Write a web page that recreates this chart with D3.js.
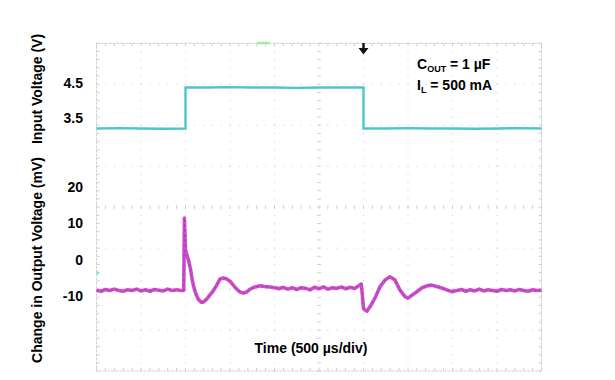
<!DOCTYPE html>
<html>
<head>
<meta charset="utf-8">
<script src="https://cdn.jsdelivr.net/npm/d3@7/dist/d3.min.js"></script>
<style>
  html, body { margin: 0; padding: 0; background: #fff; }
  svg { display: block; }
  text { font-family: "Liberation Sans", Arial, Helvetica, sans-serif; font-weight: bold; fill: #000; }
</style>
</head>
<body>
<svg id="chart" width="615" height="380"></svg>
<script>
// ---------------- data ----------------
const timeDomain = [0, 5000];              // µs, 10 divisions of 500 µs
const inTicks = [3.5, 4.5];                // V
const outTicks = [20, 10, 0, -10];         // mV

// input voltage step (V)
const inTime = [0, 250, 500, 750, 1000, 1000, 1250, 1500, 1750, 2000, 2250, 2500, 2750, 3000, 3000, 3250, 3500, 3750, 4000, 4250, 4500, 4750, 5000];
const inVolt = [3.21, 3.22, 3.21, 3.20, 3.21, 4.38, 4.38, 4.39, 4.38, 4.38, 4.37, 4.38, 4.38, 4.38, 3.21, 3.21, 3.22, 3.21, 3.21, 3.20, 3.21, 3.22, 3.21];

// change in output voltage (mV)
const outTime = [
  0, 50, 100, 150, 200, 250, 300, 350, 400, 450, 500, 550, 600, 650, 700, 750, 800, 850, 900, 950, 980,
  988, 1000, 1017, 1039, 1058, 1076, 1096, 1118, 1144, 1174, 1200, 1238, 1275, 1312, 1351, 1388, 1425, 1463,
  1500, 1537, 1575, 1612, 1649, 1688, 1725, 1781, 1837, 1894, 1950, 2025,
  2050, 2100, 2150, 2200, 2250, 2300, 2350, 2400, 2450, 2500, 2550, 2600, 2650, 2700, 2750, 2800, 2850, 2900, 2950, 2975,
  2985, 3000, 3017, 3039, 3073, 3129, 3186, 3242, 3298, 3354, 3410, 3466, 3500, 3579, 3654, 3710, 3766, 3822, 3879, 3935, 3991,
  4050, 4100, 4150, 4200, 4250, 4300, 4350, 4400, 4450, 4500, 4550, 4600, 4650, 4700, 4750, 4800, 4850, 4900, 4950, 5000
];
const outMV = [
  -8.5, -8.8, -8.3, -8.6, -8.2, -8.6, -8.8, -8.4, -8.6, -8.2, -8.7, -8.4, -8.8, -8.3, -8.5, -8.7, -8.2, -8.6, -8.4, -8.6, -8.6,
  11.5, 2.6, 1.2, -0.7, -2.9, -5.7, -7.9, -9.6, -11.0, -11.8, -11.8, -11.0, -9.8, -8.7, -7.1, -5.4, -5.1, -5.4,
  -6.0, -7.1, -8.2, -9.0, -9.3, -9.0, -8.2, -7.6, -7.3, -7.5, -7.6, -7.9,
  -8.1, -7.7, -8.2, -7.8, -8.3, -7.8, -8.0, -8.4, -7.7, -8.1, -7.6, -8.2, -7.8, -8.0, -7.6, -8.1, -7.7, -8.0, -7.2, -6.8,
  -9.3, -13.5, -14.0, -14.3, -13.1, -10.7, -7.5, -5.7, -4.8, -5.7, -8.5, -10.3, -10.7, -9.3, -7.9, -7.3, -7.1, -7.5, -7.9, -8.4, -8.9,
  -8.6, -8.3, -8.8, -8.4, -8.7, -8.2, -8.7, -8.4, -8.6, -8.8, -8.3, -8.6, -8.4, -8.7, -8.3, -8.6, -8.8, -8.4, -8.6, -8.5
];

// ---------------- layout ----------------
const svg = d3.select("#chart");
const X0 = 96.5, X1 = 541.5, Y0 = 43.3, Y1 = 371;
const x = d3.scaleLinear().domain(timeDomain).range([X0, X1]);
const div = d3.scaleLinear().domain([0, 8]).range([Y0, Y1]);       // vertical graticule divisions
const yIn = d3.scaleLinear().domain([3.5, 4.5]).range([118.3, 83.3]);
const yOut = d3.scaleLinear().domain([-10, 20]).range([295.6, 187.4]);

// ---------------- graticule ----------------
const g = svg.append("g");
const gridCol = "#d0d0d0";
const xDivs = d3.range(0, 5001, 500);
const yDivs = d3.range(0, 9);
const xSub = d3.range(0, 5001, 100);
const ySub = d3.range(0, 8.001, 0.2);

// interior dotted lines
xDivs.filter(t => t > 0 && t < 5000 && t !== 2500).forEach(t => {
  g.append("g").selectAll("rect").data(ySub).join("rect")
    .attr("x", x(t) - 0.5).attr("y", d => div(d) - 0.5).attr("width", 1).attr("height", 1.2).attr("fill", gridCol);
});
yDivs.filter(d => d > 0 && d < 8 && d !== 4).forEach(dv => {
  g.append("g").selectAll("rect").data(xSub).join("rect")
    .attr("x", d => x(d) - 0.5).attr("y", div(dv) - 0.5).attr("width", 1.2).attr("height", 1).attr("fill", gridCol);
});
// center cross lines with ticks
g.append("g").selectAll("line").data(ySub).join("line")
  .attr("x1", x(2500) - 2).attr("x2", x(2500) + 2).attr("y1", d => div(d)).attr("y2", d => div(d))
  .attr("stroke", gridCol).attr("stroke-width", 1);
g.append("g").selectAll("line").data(xSub).join("line")
  .attr("x1", d => x(d)).attr("x2", d => x(d)).attr("y1", div(4) - 2).attr("y2", div(4) + 2)
  .attr("stroke", gridCol).attr("stroke-width", 1);
// border
g.append("rect").attr("x", X0).attr("y", Y0).attr("width", X1 - X0).attr("height", Y1 - Y0)
  .attr("fill", "none").attr("stroke", gridCol).attr("stroke-width", 1).attr("stroke-dasharray", "3,1");
g.append("g").selectAll("line").data(xSub).join("line")
  .attr("x1", d => x(d)).attr("x2", d => x(d)).attr("y1", Y0).attr("y2", Y0 + 3)
  .attr("stroke", gridCol);
g.append("g").selectAll("line").data(xSub).join("line")
  .attr("x1", d => x(d)).attr("x2", d => x(d)).attr("y1", Y1).attr("y2", Y1 - 3)
  .attr("stroke", gridCol);
g.append("g").selectAll("line").data(ySub).join("line")
  .attr("x1", X0).attr("x2", X0 + 3).attr("y1", d => div(d)).attr("y2", d => div(d))
  .attr("stroke", gridCol);
g.append("g").selectAll("line").data(ySub).join("line")
  .attr("x1", X1).attr("x2", X1 - 3).attr("y1", d => div(d)).attr("y2", d => div(d))
  .attr("stroke", gridCol);

// scope markers
g.append("rect").attr("x", x(1800)).attr("y", Y0 - 1.5).attr("width", 13).attr("height", 2.5).attr("fill", "#9ef09e");
g.append("rect").attr("x", X0).attr("y", 271.5).attr("width", 2.5).attr("height", 3).attr("fill", "#7fe0e0");
// trigger arrow
const tx = x(3000);
svg.append("path")
  .attr("d", `M${tx - 1.2},43 L${tx + 1.2},43 L${tx + 1.2},48 L${tx + 5},48 L${tx},54.5 L${tx - 5},48 L${tx - 1.2},48 Z`)
  .attr("fill", "#111");

// ---------------- traces ----------------
const inPts = inTime.map((t, i) => [t, inVolt[i]]);
const outPts = outTime.map((t, i) => [t, outMV[i]]);

svg.append("path").datum(inPts)
  .attr("fill", "none").attr("stroke", "#4cc6ca").attr("stroke-width", 2.4)
  .attr("d", d3.line().x(d => x(d[0])).y(d => yIn(d[1])));

svg.append("path").datum(outPts)
  .attr("fill", "none").attr("stroke", "#cc4dcc").attr("stroke-width", 3.6).attr("stroke-linejoin", "round")
  .attr("d", d3.line().x(d => x(d[0])).y(d => yOut(d[1])));
svg.append("path").datum(outPts)
  .attr("fill", "none").attr("stroke", "#7a207a").attr("stroke-width", 0.8).attr("stroke-opacity", 0.55)
  .attr("stroke-dasharray", "2,3")
  .attr("d", d3.line().x(d => x(d[0])).y(d => yOut(d[1])));

// ---------------- axes (labels only) ----------------
const axIn = svg.append("g").attr("transform", "translate(83,0)")
  .call(d3.axisLeft(yIn).tickValues(inTicks).tickFormat(d3.format(".1f")).tickSize(0).tickPadding(0));
const axOut = svg.append("g").attr("transform", "translate(83,0)")
  .call(d3.axisLeft(yOut).tickValues(outTicks).tickFormat(d => String(d)).tickSize(0).tickPadding(0));
[axIn, axOut].forEach(a => {
  a.select(".domain").remove();
  a.selectAll("text").attr("font-size", 14).attr("font-family", "Liberation Sans, Arial, sans-serif")
    .attr("font-weight", "bold").attr("fill", "#000");
});

// axis titles
svg.append("text").attr("transform", "translate(42,89) rotate(-90)").attr("text-anchor", "middle")
  .attr("font-size", 14).text("Input Voltage (V)");
svg.append("text").attr("transform", "translate(42,260) rotate(-90)").attr("text-anchor", "middle")
  .attr("font-size", 14).text("Change in Output Voltage (mV)");

// time label
svg.append("rect").attr("x", 252).attr("y", 340).attr("width", 118).attr("height", 20).attr("fill", "#fff");
svg.append("text").attr("x", 311).attr("y", 353).attr("text-anchor", "middle")
  .attr("font-size", 14).text("Time (500 µs/div)");

// annotation
const ann = svg.append("text").attr("x", 417).attr("y", 69).attr("font-size", 14);
ann.append("tspan").text("C");
ann.append("tspan").attr("font-size", 9).attr("dy", 3).text("OUT");
ann.append("tspan").attr("dy", -3).text(" = 1 µF");
const ann2 = svg.append("text").attr("x", 417).attr("y", 90).attr("font-size", 14);
ann2.append("tspan").text("I");
ann2.append("tspan").attr("font-size", 9).attr("dy", 3).text("L");
ann2.append("tspan").attr("dy", -3).text(" = 500 mA");
</script>
</body>
</html>
